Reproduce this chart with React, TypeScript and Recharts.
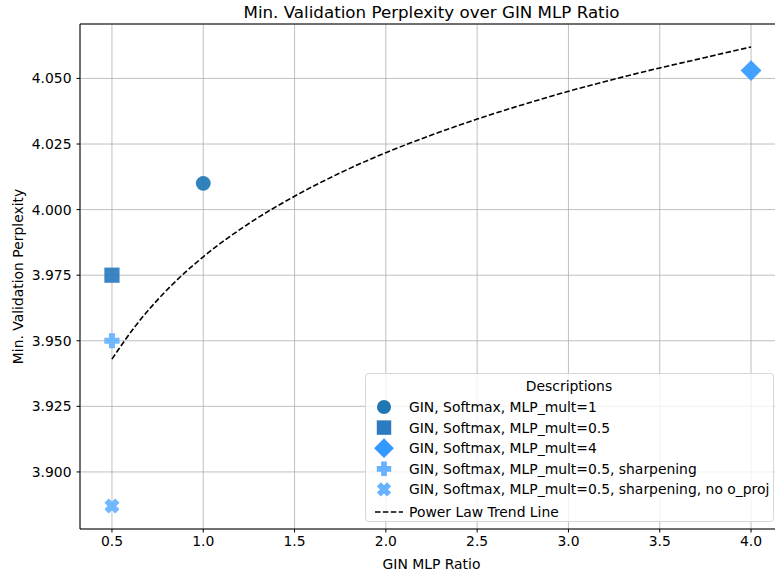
import React from "react";
import {
  ComposedChart,
  Scatter,
  Line,
  XAxis,
  YAxis,
  CartesianGrid,
  ReferenceLine,
  Label,
} from "recharts";

// measured points
const circlePts = [{ x: 1.0, y: 4.01 }];
const squarePts = [{ x: 0.5, y: 3.975 }];
const diamondPts = [{ x: 4.0, y: 4.053 }];
const plusPts = [{ x: 0.5, y: 3.95 }];
const crossPts = [{ x: 0.5, y: 3.887 }];

// trend line
const trendX = [0.5, 0.625, 0.75, 0.875, 1.0, 1.25, 1.5, 1.75, 2.0, 2.25, 2.5, 2.75, 3.0, 3.25, 3.5, 3.75, 4.0];
const trendY = [3.943, 3.9553, 3.9656, 3.9744, 3.982, 3.9947, 4.0051, 4.014, 4.0217, 4.0284, 4.0345, 4.04, 4.0451, 4.0497, 4.054, 4.058, 4.062];
const trendData = trendX.map((x, i) => ({ x, y: trendY[i] }));

const xTicks = [0.5, 1.0, 1.5, 2.0, 2.5, 3.0, 3.5, 4.0];
const yTicks = [3.9, 3.925, 3.95, 3.975, 4.0, 4.025, 4.05];

const X_DOMAIN: [number, number] = [0.325, 4.175];
const Y_DOMAIN: [number, number] = [3.87825, 4.07075];

const FONT = "'DejaVu Sans', sans-serif";

const series = [
  { name: "GIN, Softmax, MLP_mult=1", kind: "circle", color: "#1f77b4", data: circlePts },
  { name: "GIN, Softmax, MLP_mult=0.5", kind: "square", color: "#2b7bc0", data: squarePts },
  { name: "GIN, Softmax, MLP_mult=4", kind: "diamond", color: "#3399ff", data: diamondPts },
  { name: "GIN, Softmax, MLP_mult=0.5, sharpening", kind: "plus", color: "#66b2ff", data: plusPts },
  { name: "GIN, Softmax, MLP_mult=0.5, sharpening, no o_proj", kind: "x", color: "#66b2ff", data: crossPts },
];

function Marker({ kind, color, cx, cy, scale = 1 }: any) {
  const s = scale;
  if (kind === "circle") return <circle cx={cx} cy={cy} r={7.4 * s} fill={color} />;
  if (kind === "square")
    return <rect x={cx - 7.6 * s} y={cy - 7.6 * s} width={15.2 * s} height={15.2 * s} fill={color} />;
  if (kind === "diamond") {
    const d = 10.4 * s;
    return <polygon points={`${cx},${cy - d} ${cx + d},${cy} ${cx},${cy + d} ${cx - d},${cy}`} fill={color} />;
  }
  const a = 7.6 * s;
  const t = 3 * s;
  const pts = [
    [-t, -a], [t, -a], [t, -t], [a, -t], [a, t], [t, t],
    [t, a], [-t, a], [-t, t], [-a, t], [-a, -t], [-t, -t],
  ];
  const rot = kind === "x" ? 45 : 0;
  return (
    <polygon
      transform={`translate(${cx},${cy}) rotate(${rot})`}
      points={pts.map((p) => p.join(",")).join(" ")}
      fill={color}
    />
  );
}

const makeShape = (kind: string, color: string) => (props: any) => (
  <g opacity={0.92}>
    <Marker kind={kind} color={color} cx={props.cx} cy={props.cy} />
  </g>
);

const LegendBox = () => {
  const rowH = 20.6;
  return (
    <svg width={410} height={150} style={{ display: "block" }}>
      <rect x={0.5} y={0.5} width={408} height={148} rx={3} fill="#fff" fillOpacity={0.8} stroke="#d6d6d6" />
      <text x={204} y={13} textAnchor="middle" dominantBaseline="central" fontSize={13.9} fontFamily={FONT} fill="#000">
        Descriptions
      </text>
      {series.map((s, i) => (
        <g key={s.name}>
          <Marker kind={s.kind} color={s.color} cx={19} cy={34 + i * rowH} scale={0.95} />
          <text x={44} y={34 + i * rowH} dominantBaseline="central" fontSize={13.9} fontFamily={FONT} fill="#000">
            {s.name}
          </text>
        </g>
      ))}
      <line x1={10} x2={38} y1={34 + 5 * rowH + 2} y2={34 + 5 * rowH + 2} stroke="#000" strokeWidth={1.5} strokeDasharray="5.5 2.4" />
      <text x={44} y={34 + 5 * rowH + 2} dominantBaseline="central" fontSize={13.9} fontFamily={FONT} fill="#000">
        Power Law Trend Line
      </text>
    </svg>
  );
};

export default function App() {
  return (
    <div style={{ position: "absolute", left: 0, top: 0, width: 775, height: 576, overflow: "hidden", background: "#fff" }}>
      <div
        style={{
          position: "absolute",
          left: 0,
          width: 863,
          top: 2,
          textAlign: "center",
          fontFamily: FONT,
          fontSize: 16.7,
          color: "#000",
        }}
      >
        Min. Validation Perplexity over GIN MLP Ratio
      </div>
      <ComposedChart
        width={790}
        height={576}
        margin={{ top: 24, right: 7, left: 0, bottom: 0 }}
        style={{ position: "absolute", left: 0, top: 0 }}
      >
        <CartesianGrid stroke="#b0b0b0" strokeWidth={0.8} />
        <XAxis
          type="number"
          dataKey="x"
          domain={X_DOMAIN}
          ticks={xTicks}
          allowDataOverflow
          tickFormatter={(v: number) => v.toFixed(1)}
          height={47}
          tickSize={3.5}
          tickMargin={4}
          stroke="#000"
          tick={{ fill: "#000", fontSize: 13.9, fontFamily: FONT }}
        >
          <Label value="GIN MLP Ratio" position="center" dy={12} fill="#000" fontSize={13.9} fontFamily={FONT} />
        </XAxis>
        <YAxis
          type="number"
          dataKey="y"
          domain={Y_DOMAIN}
          ticks={yTicks}
          allowDataOverflow
          tickFormatter={(v: number) => v.toFixed(3)}
          width={80}
          tickSize={3.5}
          tickMargin={5}
          stroke="#000"
          tick={{ fill: "#000", fontSize: 13.9, fontFamily: FONT }}
        >
          <Label value="Min. Validation Perplexity" position="center" angle={-90} dx={-22} fill="#000" fontSize={13.9} fontFamily={FONT} />
        </YAxis>
        <ReferenceLine y={Y_DOMAIN[1]} stroke="#000" strokeWidth={1} ifOverflow="extendDomain" />
        <Line
          data={trendData}
          dataKey="y"
          type="monotone"
          stroke="#000"
          strokeWidth={1.6}
          strokeDasharray="5.5 2.4"
          dot={false}
          isAnimationActive={false}
          legendType="none"
        />
        {series.map((s) => (
          <Scatter
            key={s.name}
            name={s.name}
            data={s.data}
            dataKey="y"
            fill={s.color}
            shape={makeShape(s.kind, s.color)}
            isAnimationActive={false}
          />
        ))}
      </ComposedChart>
      <div style={{ position: "absolute", left: 365, top: 373 }}>
        <LegendBox />
      </div>
    </div>
  );
}
